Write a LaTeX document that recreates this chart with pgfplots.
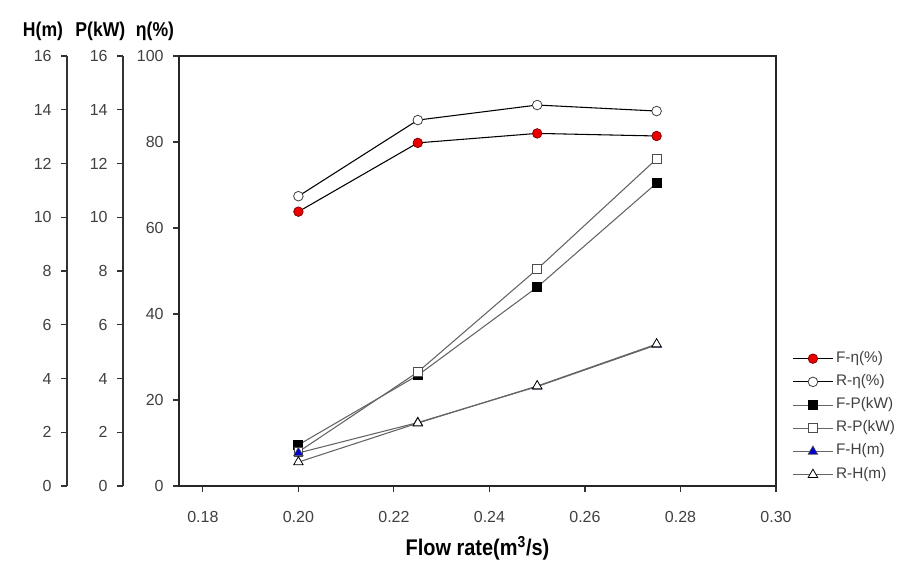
\documentclass[border=0pt]{standalone}
\usepackage{fontspec}
\setmainfont{Liberation Sans}
\newfontfamily\narrowbold{Liberation Sans}[FakeStretch=0.88]
\usepackage{pgfplots}
\pgfplotsset{compat=1.18}

\definecolor{tickgray}{RGB}{64,64,64}
\definecolor{linegray}{RGB}{100,100,100}
\definecolor{mred}{RGB}{235,0,0}
\definecolor{mblue}{RGB}{0,0,210}

% data (x = flow rate, m^3/s)
\pgfplotstableread{
x      Feta  Reta  FP    RP    FH    RH
0.200  63.8  67.4  1.53  1.27  1.23  0.89
0.225  79.8  85.1  4.12  4.24  2.36  2.34
0.250  82.0  88.6  7.40  8.07  3.70  3.72
0.275  81.4  87.2  11.27 12.17 5.25  5.28
}\pumpdata

\tikzset{
  eta/.style={black, line width=0.8pt, mark size=3.6pt},
  pw/.style={linegray, line width=0.8pt, mark size=3.3pt},
  hd/.style={linegray, line width=0.8pt, mark size=4.1pt},
}

\pgfplotsset{
  base/.style={
    width=447.75pt, height=322.5pt, scale only axis,
    xmin=0.175, xmax=0.30,
    tick align=outside, major tick length=4.5pt,
    ticklabel style={font=\fontsize{12}{14}\selectfont, text=tickgray},
    yticklabel shift=3.5pt,
    /pgf/number format/assume math mode=true,
  },
  spine/.style={
    base, at={(#1,0pt)}, anchor=south west,
    axis x line=none, axis y line*=left, y axis line style={-},
    ymin=0, ymax=16, ytick={0,2,...,16}, ytick pos=left,
    axis line style={black!80, line width=1pt},
    tick style={black!80, line width=0.8pt},
  },
}

\begin{document}
\begin{tikzpicture}
% extra y axes for H and P
\begin{axis}[spine=-84pt]
\end{axis}
\begin{axis}[spine=-42pt]
\end{axis}

% main axis: efficiency
\begin{axis}[base,
  ymin=0, ymax=100, ytick={0,20,...,100},
  xtick={0.18,0.20,0.22,0.24,0.26,0.28,0.30},
  scaled x ticks=false,
  xticklabel style={/pgf/number format/.cd, fixed, fixed zerofill, precision=2},
  xticklabel shift=11pt,
  xtick pos=bottom, ytick pos=left,
  axis line style={black!85, line width=1pt},
  tick style={black!80, line width=0.8pt},
  xlabel={\narrowbold\bfseries\fontsize{17}{20}\selectfont Flow rate(m\textsuperscript{3}/s)},
  xlabel style={at={(axis description cs:0.5,0)}, anchor=center, yshift=-46.5pt},
]
\addplot[eta, mark=*, mark options={fill=mred, draw=red!45!black, line width=0.5pt}]
  table[x=x, y=Feta] {\pumpdata};
\addplot[eta, mark=*, mark options={fill=white, draw=black!75, line width=0.6pt}]
  table[x=x, y=Reta] {\pumpdata};
\end{axis}

% power and head, scale 0-16
\begin{axis}[base, ymin=0, ymax=16, hide axis,
  legend style={draw=none, fill=none, at={(1.027,0.32)}, anchor=north west,
    font=\fontsize{11.5}{13}\selectfont, text=tickgray, inner sep=0pt,
    column sep=0pt, row sep=2.4pt,
    nodes={text height=8pt, text depth=3pt, inner sep=2pt}},
  legend cell align=left,
  legend image code/.code={\draw[mark repeat=2, mark phase=2, #1]
    plot coordinates {(0pt,0pt) (15pt,0pt) (30pt,0pt)};},
]
\addlegendimage{eta, mark=*, mark options={fill=mred, draw=red!45!black, line width=0.5pt}}
\addlegendentry{F-η(\%)}
\addlegendimage{eta, mark=*, mark options={fill=white, draw=black!75, line width=0.6pt}}
\addlegendentry{R-η(\%)}
\addplot[pw, mark=square*, mark options={fill=black, draw=black}]
  table[x=x, y=FP] {\pumpdata};
\addlegendentry{F-P(kW)}
\addplot[pw, mark=square*, mark options={fill=white, draw=black!70, line width=0.6pt}]
  table[x=x, y=RP] {\pumpdata};
\addlegendentry{R-P(kW)}
\addplot[hd, mark=triangle*, mark options={fill=mblue, draw=black!70, line width=0.5pt}]
  table[x=x, y=FH] {\pumpdata};
\addlegendentry{F-H(m)}
\addplot[hd, mark=triangle*, mark options={fill=white, draw=black, line width=0.6pt}]
  table[x=x, y=RH] {\pumpdata};
\addlegendentry{R-H(m)}
\end{axis}

% axis titles
\node[font=\narrowbold\bfseries\fontsize{15}{18}\selectfont] at (-102pt,341pt) {H(m)};
\node[font=\narrowbold\bfseries\fontsize{15}{18}\selectfont] at (-59pt,341pt) {P(kW)};
\node[font=\narrowbold\bfseries\fontsize{15}{18}\selectfont] at (-18pt,341pt) {η(\%)};

\pgfresetboundingbox
\useasboundingbox (-134.25pt,-62.25pt) rectangle (558pt,364.5pt);
\end{tikzpicture}
\end{document}
